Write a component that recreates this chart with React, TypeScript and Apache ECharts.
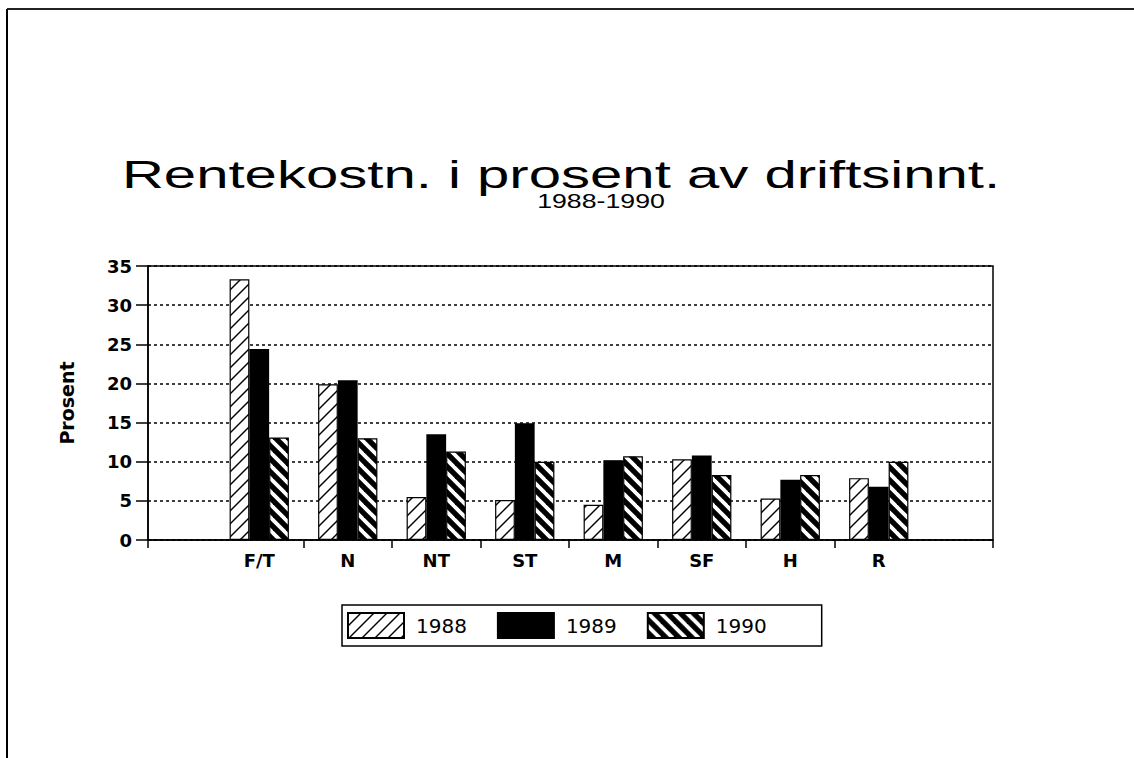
import React, { useEffect, useRef } from 'react';
import * as echarts from 'echarts';

const categories = ['F/T', 'N', 'NT', 'ST', 'M', 'SF', 'H', 'R'];
const years = ['1988', '1989', '1990'];
const values1988 = [33.3, 19.9, 5.5, 5.1, 4.5, 10.3, 5.3, 7.9];
const values1989 = [24.4, 20.4, 13.5, 14.9, 10.2, 10.8, 7.7, 6.8];
const values1990 = [13.1, 13.0, 11.3, 10.0, 10.7, 8.3, 8.3, 10.0];
const yMin = 0;
const yMax = 35;
const yStep = 5;
const titleText = 'Rentekostn. i prosent av driftsinnt.';
const subtitleText = '1988-1990';
const yName = 'Prosent';

function makePattern(kind: 'slash' | 'back', size: number) {
  const c = document.createElement('canvas');
  c.width = size;
  c.height = size;
  const ctx = c.getContext('2d')!;
  if (kind === 'slash') {
    ctx.fillStyle = '#fff';
    ctx.fillRect(0, 0, size, size);
    ctx.strokeStyle = '#000';
    ctx.lineWidth = 1.4;
    for (let k = 0; k <= 2; k++) {
      const cc = k * size;
      ctx.beginPath();
      ctx.moveTo(-size, cc + size);
      ctx.lineTo(2 * size, cc - 2 * size);
      ctx.stroke();
    }
  } else {
    ctx.fillStyle = '#000';
    ctx.fillRect(0, 0, size, size);
    ctx.strokeStyle = '#fff';
    ctx.lineWidth = 3.8;
    for (let k = -1; k <= 1; k++) {
      const cc = k * size;
      ctx.beginPath();
      ctx.moveTo(-size, -size + cc);
      ctx.lineTo(2 * size, 2 * size + cc);
      ctx.stroke();
    }
  }
  return { image: c.toDataURL(), repeat: 'repeat', imageWidth: size, imageHeight: size };
}

export default function App() {
  const ref = useRef<HTMLDivElement>(null);
  useEffect(() => {
    if (!ref.current) return;
    const chart = echarts.init(ref.current, null, { renderer: 'svg' });
    const pat1988 = makePattern('slash', 13);
    const pat1990 = makePattern('back', 13);
    const axisLineStyle = { color: '#000', width: 1.5 };
    const barBase = {
      type: 'bar',
      xAxisIndex: 1,
      yAxisIndex: 1,
      barGap: '0%',
      barCategoryGap: '33%',
    };
    const option: any = {
      animation: false,
      backgroundColor: '#fff',
      textStyle: { fontFamily: 'DejaVu Sans' },
      grid: [
        { left: 148, top: 266, width: 845, height: 274, show: true, borderColor: '#000', borderWidth: 1.5, backgroundColor: 'transparent' },
        { left: 215, top: 266, width: 708, height: 274 },
        { left: 303.5, top: 266, width: 531, height: 274 },
      ],
      xAxis: [
        {
          gridIndex: 0, type: 'value', min: 0, max: 1, interval: 1,
          axisLine: { show: true, onZero: false, lineStyle: axisLineStyle },
          axisTick: { show: true, inside: false, length: 8, lineStyle: axisLineStyle },
          axisLabel: { show: false }, splitLine: { show: false },
        },
        {
          gridIndex: 1, type: 'category', data: categories,
          axisLine: { show: false }, axisTick: { show: false },
          axisLabel: { color: '#000', fontFamily: 'DejaVu Sans', fontWeight: 'bold', fontSize: 18, margin: 11 },
          splitLine: { show: false },
        },
        {
          gridIndex: 2, type: 'value', min: 0, max: 6, interval: 1,
          axisLine: { show: false, onZero: false },
          axisTick: { show: true, inside: false, length: 8, lineStyle: axisLineStyle },
          axisLabel: { show: false }, splitLine: { show: false },
        },
      ],
      yAxis: [
        {
          gridIndex: 0, type: 'value', min: yMin, max: yMax, interval: yStep,
          name: yName, nameLocation: 'middle', nameGap: 72, nameRotate: 90,
          nameTextStyle: { color: '#000', fontFamily: 'DejaVu Sans', fontWeight: 'bold', fontSize: 19 },
          axisLine: { show: true, onZero: false, lineStyle: axisLineStyle },
          axisTick: { show: true, inside: false, length: 12, lineStyle: axisLineStyle },
          axisLabel: { color: '#000', fontFamily: 'DejaVu Sans', fontWeight: 'bold', fontSize: 18, margin: 16 },
          splitLine: { show: true, lineStyle: { color: '#000', width: 1.5, type: [3, 3] } },
        },
        { gridIndex: 1, type: 'value', min: yMin, max: yMax, show: false, splitLine: { show: false } },
        { gridIndex: 2, type: 'value', min: yMin, max: yMax, show: false, splitLine: { show: false } },
      ],
      legend: {
        data: years,
        left: 342, top: 605,
        orient: 'horizontal',
        icon: 'rect',
        itemWidth: 56, itemHeight: 25, itemGap: 30,
        padding: [7, 55, 7, 5],
        borderColor: '#000', borderWidth: 1.5,
        textStyle: { color: '#000', fontFamily: 'DejaVu Sans', fontSize: 20, padding: [0, 0, 0, 7] },
      },
      series: [
        { ...barBase, name: years[0], data: values1988, itemStyle: { color: pat1988, borderColor: '#000', borderWidth: 1.2 } },
        { ...barBase, name: years[1], data: values1989, itemStyle: { color: '#000', borderColor: '#000', borderWidth: 1.2 } },
        { ...barBase, name: years[2], data: values1990, itemStyle: { color: pat1990, borderColor: '#000', borderWidth: 1.2 } },
      ],
      graphic: [
        { type: 'line', shape: { x1: 7, y1: 9, x2: 7, y2: 758 }, style: { stroke: '#000', lineWidth: 2 } },
        { type: 'line', shape: { x1: 7, y1: 9, x2: 1134, y2: 9 }, style: { stroke: '#222', lineWidth: 2 } },
        {
          type: 'text', x: 561, y: 174, scaleX: 1.49,
          style: { text: titleText, fill: '#000', font: '39px "Liberation Sans", Arial, sans-serif', textAlign: 'center', textVerticalAlign: 'middle' },
        },
        {
          type: 'text', x: 601, y: 201, scaleX: 1.37,
          style: { text: subtitleText, fill: '#000', font: '19.5px "Liberation Sans", Arial, sans-serif', textAlign: 'center', textVerticalAlign: 'middle' },
        },
      ],
    };
    chart.setOption(option);
    return () => chart.dispose();
  }, []);
  return <div ref={ref} style={{ position: 'fixed', left: 0, top: 0, width: 1134, height: 758 }} />;
}
